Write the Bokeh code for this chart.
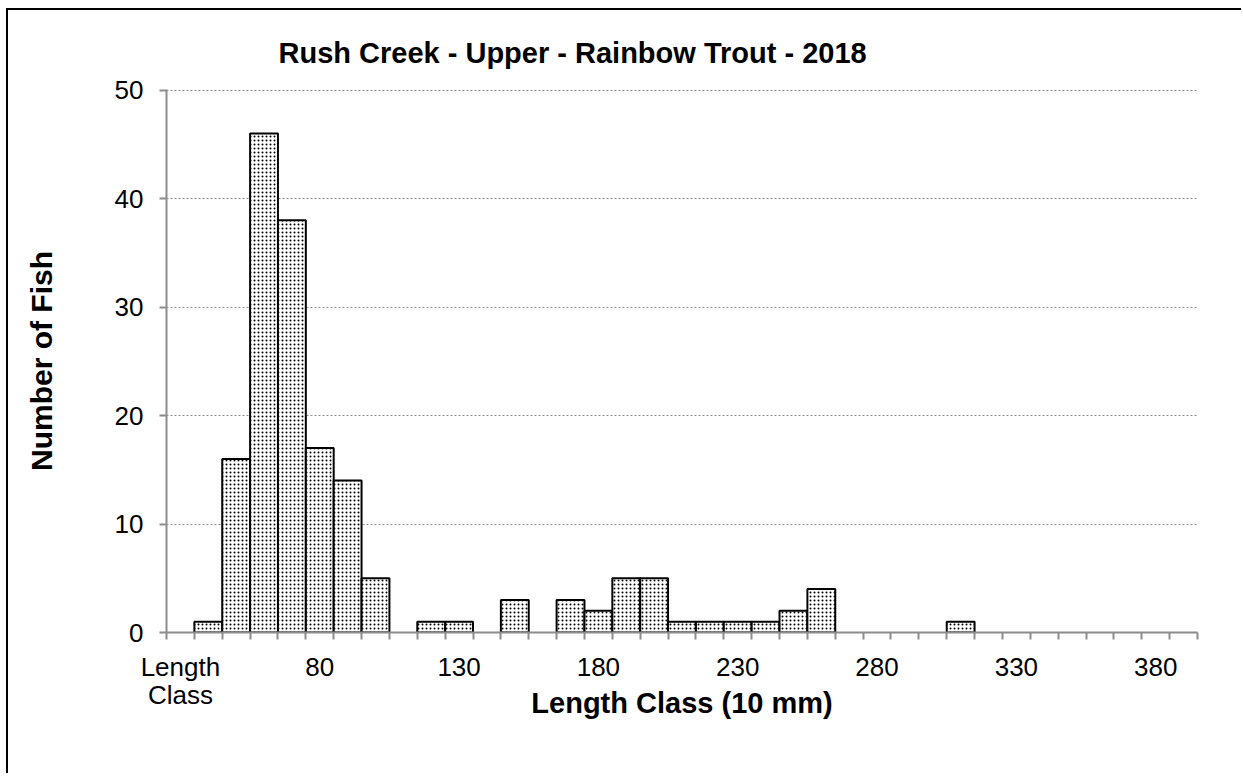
from bokeh.plotting import figure
from bokeh.models import Range1d, FixedTicker, ColumnDataSource
from bokeh.embed import file_html
from bokeh.resources import INLINE

# ---- data ----
title_text = "Rush Creek - Upper - Rainbow Trout - 2018"
x_title = "Length Class (10 mm)"
y_title = "Number of Fish"
categories = ["Length Class"] + [str(v) for v in range(40, 400, 10)]
counts = [0, 1, 16, 46, 38, 17, 14, 5, 0, 1, 1, 0, 3, 0, 3, 2, 5, 5, 1, 1,
          1, 1, 2, 4, 0, 0, 0, 0, 1, 0, 0, 0, 0, 0, 0, 0, 0]
y_ticks = [0, 10, 20, 30, 40, 50]
label_every = 5

FONT = "Liberation Sans"
AXIS_GRAY = "#8c8c8c"

W, H = 1235, 765
p = figure(width=W, height=H, output_backend="svg", toolbar_location=None,
           x_range=Range1d(0, len(categories)), y_range=Range1d(0, 50.05),
           min_border_left=158, min_border_right=46, min_border_top=79,
           min_border_bottom=143)
p.outline_line_color = None
p.background_fill_color = "white"
p.border_fill_color = "white"
# chart border: only its top and left edges fall inside the window
p.styles = {"margin-left": "6px", "margin-top": "8px",
            "border-left": "2px solid black", "border-top": "2px solid black",
            "border-right": "none", "border-bottom": "none"}

# title
p.title.text = title_text
p.title.align = "left"
p.title.offset = 112
p.title.standoff = 42
p.title.text_font = FONT
p.title.text_font_style = "bold"
p.title.text_font_size = "29px"
p.title.text_color = "black"

# bars
idx = [i for i, c in enumerate(counts) if c > 0]
src = ColumnDataSource(dict(x=[i + 0.5 for i in idx], top=[counts[i] for i in idx]))
p.vbar(x="x", top="top", width=1.0, bottom=0, source=src,
       fill_color="white", line_color="black", line_width=2,
       hatch_pattern="dot", hatch_color="black", hatch_scale=4, hatch_weight=3)

# x axis: ticks at category boundaries, labels every 5th category
xa = p.below[0]
major = [i + 0.5 for i in range(0, len(categories), label_every)]
xa.ticker = FixedTicker(ticks=major, minor_ticks=list(range(len(categories) + 1)))
xa.major_label_overrides = {i + 0.5: categories[i].replace(" ", "\n")
                            for i in range(0, len(categories), label_every)}
xa.major_tick_out = 0
xa.major_tick_in = 0
xa.minor_tick_out = 7
xa.minor_tick_in = 0
xa.minor_tick_line_color = AXIS_GRAY
xa.minor_tick_line_width = 2
xa.axis_line_color = AXIS_GRAY
xa.axis_line_width = 2
xa.major_label_standoff = 12
xa.major_label_text_font = FONT
xa.major_label_text_font_size = "26px"
xa.major_label_text_line_height = 0.95
xa.major_label_text_color = "black"
xa.axis_label = x_title
xa.axis_label_standoff = -26
xa.axis_label_text_font = FONT
xa.axis_label_text_font_style = "bold"
xa.axis_label_text_font_size = "29px"
xa.axis_label_text_color = "black"

ya = p.left[0]
ya.ticker = FixedTicker(ticks=y_ticks, minor_ticks=[])
ya.major_tick_out = 7
ya.major_tick_in = 0
ya.major_tick_line_color = AXIS_GRAY
ya.major_tick_line_width = 2
ya.minor_tick_line_color = None
ya.axis_line_color = AXIS_GRAY
ya.axis_line_width = 2
ya.major_label_standoff = 16
ya.major_label_text_font = FONT
ya.major_label_text_font_size = "26px"
ya.major_label_text_color = "black"
ya.axis_label = y_title
ya.axis_label_standoff = 54
ya.axis_label_text_font = FONT
ya.axis_label_text_font_style = "bold"
ya.axis_label_text_font_size = "30px"
ya.axis_label_text_color = "black"

p.xgrid.grid_line_color = None
p.ygrid.ticker = FixedTicker(ticks=y_ticks[1:])
p.ygrid.grid_line_color = "#8c8c8c"
p.ygrid.grid_line_dash = "2 2"
p.ygrid.grid_line_width = 1.2

open("out.html", "w").write(file_html(p, INLINE))
